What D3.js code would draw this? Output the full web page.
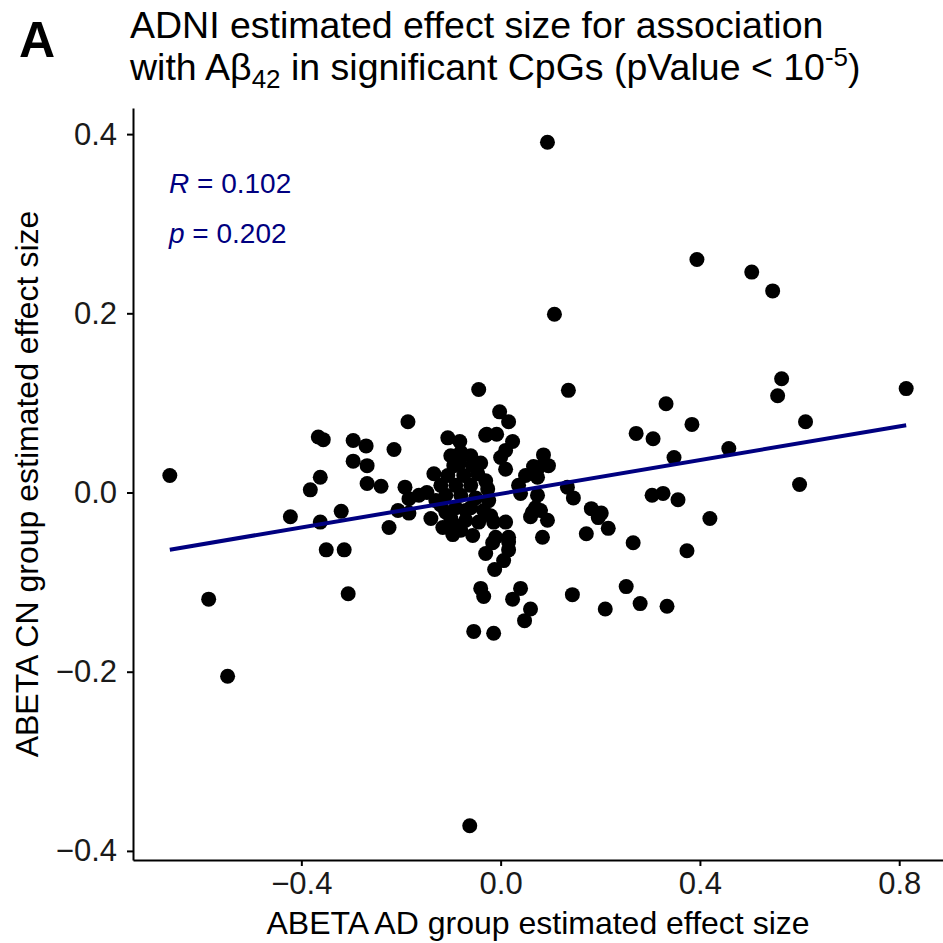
<!DOCTYPE html>
<html>
<head>
<meta charset="utf-8">
<script src="https://cdn.jsdelivr.net/npm/d3@7"></script>
<style>
  body { margin: 0; background: #fff; }
  text { font-family: "Liberation Sans", Arial, sans-serif; }
</style>
</head>
<body>
<div id="chart"></div>
<script>
// Effect sizes (AD group on x, CN group on y)
const adEffect = [
  0.094, 0.394, 0.504, 0.546, 0.108, 0.814, 0.564, 0.556, 0.136, 0.332,
  0.612, 0.384, 0.272, 0.306, 0.458, 0.348, 0.600, 0.304, 0.326, 0.356,
  0.420, 0.374, 0.266, 0.216, 0.172, 0.182, 0.202, 0.196, 0.134, 0.146,
  0.144, 0.210, 0.252, 0.280, 0.334,
  -0.664, -0.586, -0.548, -0.062, -0.366, -0.356, -0.296, -0.270, -0.296, -0.268,
  -0.362, -0.382, -0.268, -0.422, -0.362, -0.320, -0.350, -0.314, -0.306, -0.240,
  -0.214, -0.186, -0.192, -0.164, -0.184, -0.206, -0.184, -0.224, -0.140, -0.116,
  -0.096, -0.134, -0.148,
  -0.044, -0.002, 0.016, -0.028, -0.008, 0.024, 0.010, 0.000, 0.010, -0.106,
  -0.082, -0.080, -0.082, -0.030, 0.086, 0.096, 0.076, 0.066, 0.074, 0.050,
  0.036, 0.040, 0.074, 0.070, 0.064, 0.080, 0.094, 0.084, -0.014, 0.010,
  -0.010, 0.016, 0.060, -0.026, -0.016, 0.016, -0.030, 0.016, 0.006, -0.012,
  -0.040, -0.034, 0.040, 0.024, 0.060, 0.048, -0.054, -0.014,
  -0.094, -0.056, -0.106, -0.074, -0.046, -0.120, -0.090, -0.060, -0.030, -0.110,
  -0.080, -0.050, -0.024, -0.120, -0.090, -0.060, -0.034, -0.100, -0.070, -0.044,
  -0.080, -0.056, -0.110, -0.100, -0.060, -0.040, -0.130, -0.070, -0.020, -0.090
];
const cnEffect = [
  0.391, 0.260, 0.246, 0.225, 0.199, 0.116, 0.127, 0.108, 0.114, 0.099,
  0.079, 0.076, 0.066, 0.060, 0.049, 0.039, 0.009, -0.003, -0.001, -0.008,
  -0.029, -0.065, -0.056, -0.040, -0.046, -0.018, -0.023, -0.028, 0.006, -0.006,
  -0.114, -0.130, -0.105, -0.124, -0.127,
  0.019, -0.119, -0.205, -0.372, 0.062, 0.059, 0.058, 0.052, 0.035, 0.030,
  0.017, 0.003, 0.010, -0.027, -0.033, -0.021, -0.064, -0.064, -0.113, 0.007,
  0.048, 0.079, 0.006, -0.003, -0.007, -0.020, -0.023, -0.039, -0.029, -0.039,
  -0.047, 0.021, 0.000,
  0.115, 0.090, 0.079, 0.065, 0.065, 0.057, 0.047, 0.039, 0.026, 0.061,
  0.057, 0.045, 0.033, 0.064, 0.042, 0.030, 0.028, 0.029, 0.017, 0.019,
  0.008, -0.001, -0.003, -0.017, -0.022, -0.020, -0.031, -0.050, -0.033, -0.033,
  -0.050, -0.050, -0.027, 0.004, -0.056, -0.055, -0.068, -0.064, -0.076, -0.086,
  -0.107, -0.116, -0.107, -0.119, -0.130, -0.143, -0.155, -0.157,
  0.030, 0.030, 0.019, 0.019, 0.021, 0.008, 0.008, 0.008, 0.013, -0.003,
  -0.003, -0.006, -0.009, -0.014, -0.017, -0.017, -0.020, -0.029, -0.031, -0.033,
  -0.042, -0.048, -0.022, 0.041, 0.041, 0.033, -0.009, -0.020, -0.026, -0.037
];
const xTicks = [-0.4, 0.0, 0.4, 0.8];
const yTicks = [-0.4, -0.2, 0.0, 0.2, 0.4];
// linear fit: [intercept, slope]
const fitCoef = [-0.0014, 0.094];
const corrLabels = [["R", "0.102"], ["p", "0.202"]];

const points = adEffect.map((d, i) => ({x: d, y: cnEffect[i]}));

const width = 943, height = 943;
const margin = {top: 108, right: 0, bottom: 83, left: 133};

const svg = d3.select("#chart").append("svg")
    .attr("width", width)
    .attr("height", height);

// ggplot-style 5% expansion
function expand(ext) {
    const pad = (ext[1] - ext[0]) * 0.05;
    return [ext[0] - pad, ext[1] + pad];
}

const x = d3.scaleLinear()
    .domain(expand(d3.extent(adEffect)))
    .range([margin.left, width - margin.right]);

const y = d3.scaleLinear()
    .domain(expand(d3.extent(cnEffect)))
    .range([height - margin.bottom, margin.top]);

// Axes
const xAxis = svg.append("g")
    .attr("transform", `translate(0,${height - margin.bottom})`)
    .call(d3.axisBottom(x).tickValues(xTicks).tickFormat(d3.format(".1f"))
        .tickSizeInner(6).tickSizeOuter(0).tickPadding(6));

const yAxis = svg.append("g")
    .attr("transform", `translate(${margin.left},0)`)
    .call(d3.axisLeft(y).tickValues(yTicks).tickFormat(d3.format(".1f"))
        .tickSizeInner(6).tickSizeOuter(0).tickPadding(10));

[xAxis, yAxis].forEach(ax => {
    ax.select(".domain").attr("stroke", "#000").attr("stroke-width", 2);
    ax.selectAll(".tick line").attr("stroke", "#000").attr("stroke-width", 2);
    ax.selectAll(".tick text")
        .attr("fill", "#1a1a1a")
        .style("font-size", "31px")
        .style("font-family", "'Liberation Sans', Arial, sans-serif");
});

// Points
svg.append("g")
    .selectAll("circle")
    .data(points)
    .enter().append("circle")
    .attr("cx", d => x(d.x))
    .attr("cy", d => y(d.y))
    .attr("r", 7.5)
    .attr("fill", "#000");

// Regression line across data range
const xr = d3.extent(adEffect);
svg.append("line")
    .attr("x1", x(xr[0]))
    .attr("y1", y(fitCoef[0] + fitCoef[1] * xr[0]))
    .attr("x2", x(xr[1]))
    .attr("y2", y(fitCoef[0] + fitCoef[1] * xr[1]))
    .attr("stroke", "#000080")
    .attr("stroke-width", 4);

// R / p annotation
const ann = svg.append("g");
corrLabels.forEach((c, i) => {
    const t = ann.append("text")
        .attr("x", 169)
        .attr("y", 193 + i * 50)
        .attr("fill", "#000080")
        .style("font-size", "28px");
    t.append("tspan").style("font-style", "italic").text(c[0]);
    t.append("tspan").text(" = " + c[1]);
});

// Panel tag and title
svg.append("text")
    .attr("x", 19)
    .attr("y", 57)
    .style("font-size", "50px")
    .style("font-weight", "bold")
    .text("A");

svg.append("text")
    .attr("x", 130)
    .attr("y", 38)
    .style("font-size", "37.5px")
    .attr("fill", "#000")
    .text("ADNI estimated effect size for association");

const t2 = svg.append("text")
    .attr("x", 130)
    .attr("y", 80)
    .style("font-size", "37.5px")
    .attr("fill", "#000");
t2.append("tspan").text("with A\u03b2");
t2.append("tspan").attr("dy", 8).style("font-size", "26px").text("42");
t2.append("tspan").attr("dy", -8).text(" in significant CpGs (pValue < 10");
t2.append("tspan").attr("dy", -14).style("font-size", "26px").text("-5");
t2.append("tspan").attr("dy", 14).text(")");

// Axis titles
svg.append("text")
    .attr("x", (margin.left + width - margin.right) / 2)
    .attr("y", 934)
    .attr("text-anchor", "middle")
    .style("font-size", "32px")
    .text("ABETA AD group estimated effect size");

svg.append("text")
    .attr("transform", `translate(38,${(margin.top + height - margin.bottom) / 2}) rotate(-90)`)
    .attr("text-anchor", "middle")
    .style("font-size", "32px")
    .text("ABETA CN group estimated effect size");
</script>
</body>
</html>
